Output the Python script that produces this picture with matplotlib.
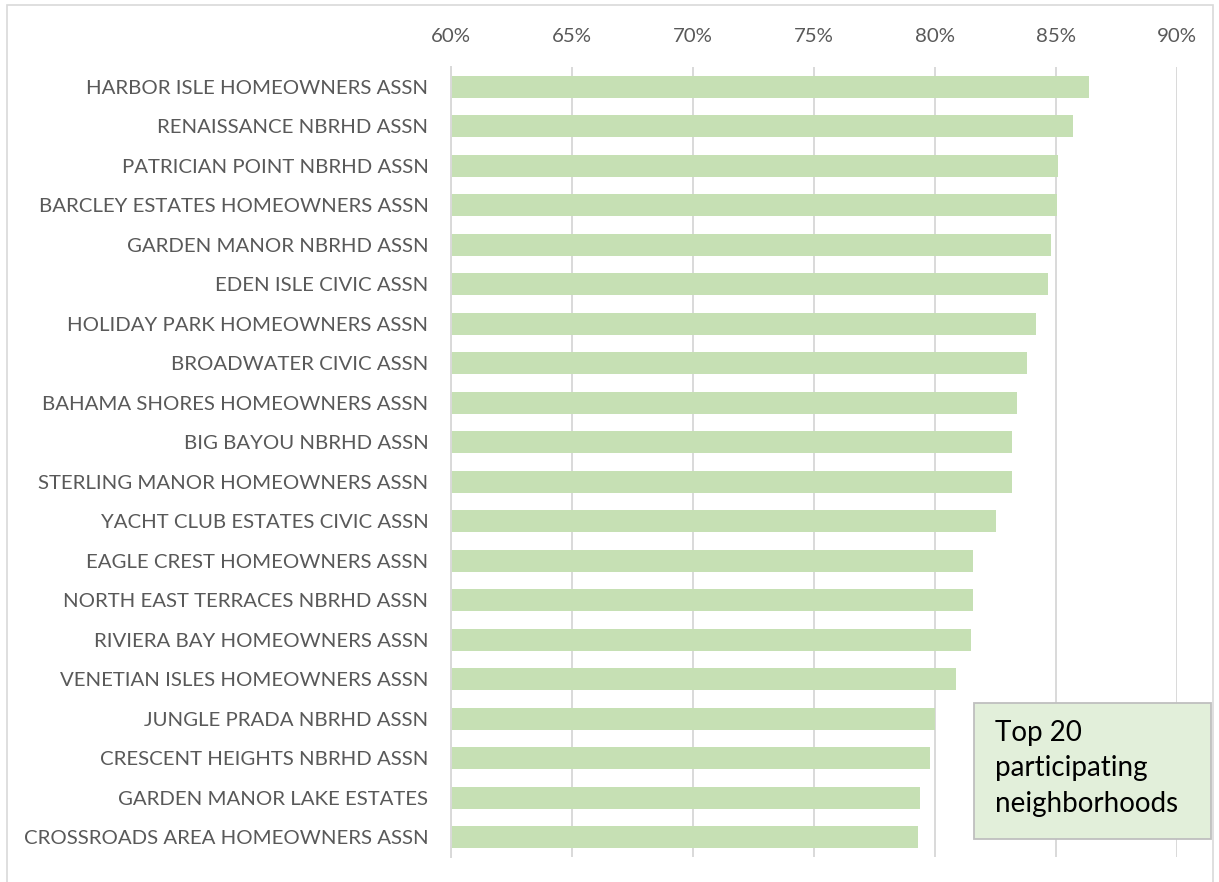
import matplotlib.pyplot as plt
from matplotlib.patches import Rectangle
from matplotlib.ticker import PercentFormatter

# Neighborhood participation rates (top 20)
neighborhoods = [
    "HARBOR ISLE HOMEOWNERS ASSN",
    "RENAISSANCE NBRHD ASSN",
    "PATRICIAN POINT NBRHD ASSN",
    "BARCLEY ESTATES HOMEOWNERS ASSN",
    "GARDEN MANOR NBRHD ASSN",
    "EDEN ISLE CIVIC ASSN",
    "HOLIDAY PARK HOMEOWNERS ASSN",
    "BROADWATER CIVIC ASSN",
    "BAHAMA SHORES HOMEOWNERS ASSN",
    "BIG BAYOU NBRHD ASSN",
    "STERLING MANOR HOMEOWNERS ASSN",
    "YACHT CLUB ESTATES CIVIC ASSN",
    "EAGLE CREST HOMEOWNERS ASSN",
    "NORTH EAST TERRACES NBRHD ASSN",
    "RIVIERA BAY HOMEOWNERS ASSN",
    "VENETIAN ISLES HOMEOWNERS ASSN",
    "JUNGLE PRADA NBRHD ASSN",
    "CRESCENT HEIGHTS NBRHD ASSN",
    "GARDEN MANOR LAKE ESTATES",
    "CROSSROADS AREA HOMEOWNERS ASSN",
]
participation = [
    0.8636, 0.857, 0.851, 0.8505, 0.848, 0.847, 0.842, 0.838, 0.834, 0.832,
    0.832, 0.8255, 0.816, 0.816, 0.815, 0.809, 0.800, 0.798, 0.794, 0.793,
]
x_ticks = [0.60, 0.65, 0.70, 0.75, 0.80, 0.85, 0.90]

plt.rcParams["font.family"] = ["Lato", "DejaVu Sans"]

fig = plt.figure(figsize=(12.19, 8.82), dpi=100)
ax = fig.add_axes([0.3697, 0.0283, 0.5956, 0.8957])

y = list(range(len(neighborhoods)))
ax.barh(y, participation, height=0.55, color="#c6e0b4", zorder=2)

ax.set_xlim(0.60, 0.90)
ax.set_ylim(len(neighborhoods) - 0.5, -0.5)
ax.set_yticks(y)
ax.set_yticklabels(neighborhoods)
ax.set_xticks(x_ticks)
ax.xaxis.set_major_formatter(PercentFormatter(1.0, decimals=0))
ax.xaxis.tick_top()

ax.tick_params(axis="x", length=0, pad=16, labelsize=14.7, labelcolor="#595959")
ax.tick_params(axis="y", length=0, pad=16, labelsize=14.7, labelcolor="#595959")

ax.grid(axis="x", color="#d9d9d9", linewidth=1.4, zorder=0)
for side in ["top", "right", "bottom"]:
    ax.spines[side].set_visible(False)
ax.spines["left"].set_color("#d9d9d9")
ax.spines["left"].set_linewidth(1.4)

# text box in the lower right
fig.patches.append(Rectangle((0.799, 0.0488), 0.1944, 0.1542, transform=fig.transFigure,
                             facecolor="#e2efda", edgecolor="#bfbfbf", linewidth=1.3, zorder=5))
fig.text(0.816, 1 - 720 / 882, "Top 20\nparticipating\nneighborhoods", fontsize=20,
         color="black", va="top", ha="left", linespacing=1.45, zorder=6)

# chart border
fig.patches.append(Rectangle((7 / 1219, -0.01), 1206 / 1219, 1 - 5 / 882 + 0.01,
                             transform=fig.transFigure, fill=False,
                             edgecolor="#d9d9d9", linewidth=1.2))

plt.savefig("out.png", dpi=100)
